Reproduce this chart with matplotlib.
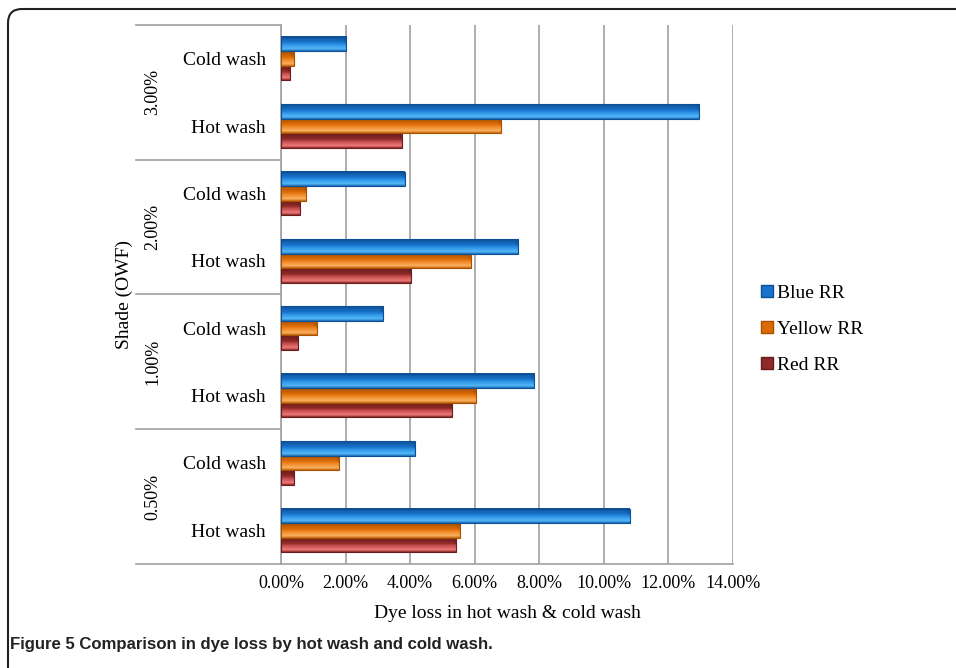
import numpy as np
import matplotlib.pyplot as plt
from matplotlib.colors import LinearSegmentedColormap
from matplotlib.patches import Patch, FancyBboxPatch
from matplotlib.ticker import FuncFormatter

plt.rcParams['font.family'] = ['Liberation Serif', 'DejaVu Serif']

# 数据（从下到上：0.50% 热洗、冷洗 ... 3.00% 冷洗）
shades = ['0.50%', '1.00%', '2.00%', '3.00%']
washes = ['Hot wash', 'Cold wash']
blue_rr = [10.80, 4.15, 7.84, 3.16, 7.35, 3.84, 12.95, 2.02]
yellow_rr = [5.54, 1.81, 6.05, 1.12, 5.89, 0.79, 6.82, 0.40]
red_rr = [5.43, 0.40, 5.30, 0.53, 4.02, 0.60, 3.75, 0.28]

# 每个系列的渐变色：顶边、高光、中间、底部
series = [
    ('Red RR', red_rr, ['#8a2a2a', '#f07a7a', '#c04a4a', '#8e2a2a', '#6a1c1c'], '#6a1c1c', -1),
    ('Yellow RR', yellow_rr, ['#c86a10', '#fbb060', '#ee8420', '#dc6c08', '#a85000'], '#a85000', 0),
    ('Blue RR', blue_rr, ['#1a6cb8', '#55b8f8', '#2a90e4', '#1874cc', '#0d4f94'], '#0d4f94', 1),
]

fig = plt.figure(figsize=(9.56, 6.68), dpi=100)
ax = fig.add_axes([0.2939, 0.1557, 0.4728, 0.8069])

y = np.arange(len(blue_rr))
h = 0.215

for name, vals, stops, edge, k in series:
    cmap = LinearSegmentedColormap.from_list(name, list(zip([0, 0.15, 0.45, 0.6, 1.0], stops)))
    grad = np.linspace(0, 1, 64).reshape(-1, 1)
    for yi, v in zip(y, vals):
        y0 = yi + k * h - h / 2
        ax.imshow(grad, cmap=cmap, aspect='auto', extent=[0, v, y0 + h, y0],
                  origin='upper', zorder=3, interpolation='bilinear')
        ax.add_patch(plt.Rectangle((0, y0), v, h, fill=False, ec=edge, lw=0.8, zorder=4))
        # 右端的斜面阴影
        ax.fill([v - 0.12, v, v], [y0 + h * 0.8, y0 + h, y0 + h * 0.5], color=edge,
                alpha=0.45, zorder=4, lw=0)

ax.set_xlim(0, 14)
ax.set_ylim(-0.5, 7.5)
ax.set_xticks(np.arange(0, 14.01, 2))
ax.xaxis.set_major_formatter(FuncFormatter(lambda v, p: f'{v:.2f}%'))
ax.grid(axis='x', color='#a0a0a0', lw=1.2, zorder=1)
ax.set_axisbelow(True)
ax.set_yticks(y)
ax.set_yticklabels(washes * 4)
ax.tick_params(axis='both', length=0, labelsize=13)
ax.tick_params(axis='y', pad=11, labelsize=14)
ax.tick_params(axis='x', pad=8)
for s in ['top', 'right']:
    ax.spines[s].set_visible(False)
ax.spines['left'].set_color('#a0a0a0')
ax.spines['bottom'].set_color('#a0a0a0')
ax.spines['left'].set_linewidth(1.2)
ax.spines['bottom'].set_linewidth(1.2)

# 左侧多级分类轴的分隔线和浓度标签
tr = ax.get_yaxis_transform()
for b in [-0.5, 1.5, 3.5, 5.5, 7.5]:
    ax.plot([-0.321, 0], [b, b], color='#a0a0a0', lw=1.2, transform=tr, clip_on=False)
for i, s in enumerate(shades):
    ax.text(-0.283, 2 * i + 0.5, s, transform=tr, rotation=90, ha='center', va='center',
            fontsize=13)

ax.set_xlabel('Dye loss in hot wash & cold wash', fontsize=14, labelpad=9)
ax.text(-0.346, 0.5, 'Shade (OWF)', transform=ax.transAxes, rotation=90,
        ha='center', va='center', fontsize=14)

handles = [Patch(facecolor=s[2][3], edgecolor=s[3], label=s[0]) for s in series[::-1]]
fig.legend(handles=handles, loc='center left', bbox_to_anchor=(0.796, 0.507),
           frameon=False, fontsize=14, handlelength=0.6, handleheight=0.6,
           handletextpad=0.2, labelspacing=0.97, borderpad=0, borderaxespad=0)

# 外框和图题
frame = FancyBboxPatch((8, -30), 980, 689, boxstyle='round,pad=0,rounding_size=14',
                       transform=None, fill=False, ec='#222222', lw=1.5)
fig.add_artist(frame)
fig.text(10 / 956, 1 - 644 / 668, 'Figure 5 Comparison in dye loss by hot wash and cold wash.',
         family=['Liberation Sans', 'DejaVu Sans'], weight='bold', fontsize=12.1,
         color='#222222', va='center', ha='left')

fig.savefig('out.png', dpi=100)
